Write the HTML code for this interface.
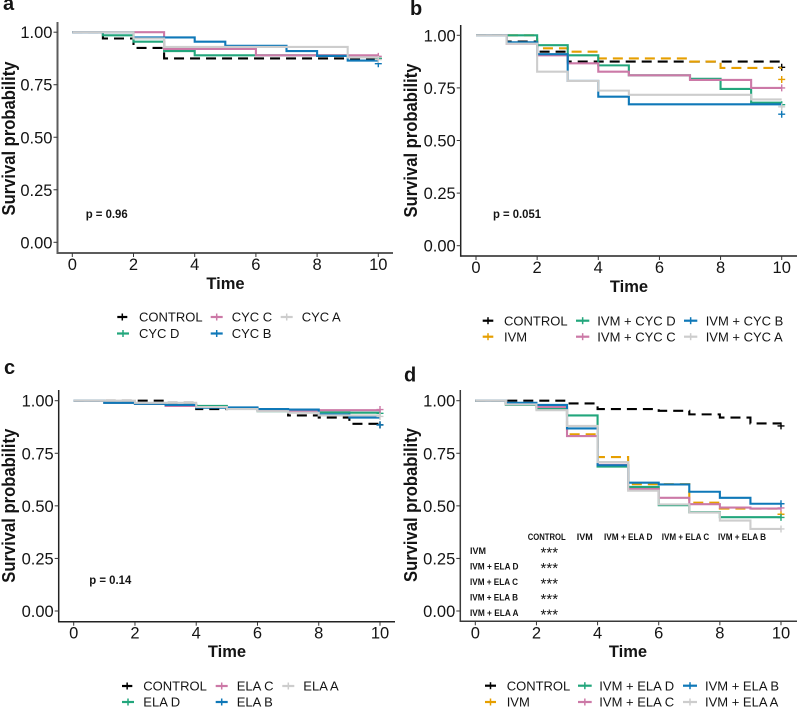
<!DOCTYPE html>
<html lang="en">
<head>
<meta charset="utf-8">
<title>Survival probability panels</title>
<style>
  html, body { margin: 0; padding: 0; background: #fff; }
  svg { display: block; font-family: "Liberation Sans", Arial, sans-serif; filter: blur(0.3px); }
  text { fill: #141414; }
</style>
</head>
<body>
<svg id="figure" width="797" height="707" viewBox="0 0 797 707" xmlns="http://www.w3.org/2000/svg"></svg>
<script>
// ---- shared axis data ----
const timeTicks = [0, 2, 4, 6, 8, 10];
const survivalTicks = [0, 0.25, 0.5, 0.75, 1];
const survivalTickLabels = ['0.00', '0.25', '0.50', '0.75', '1.00'];

// ---- each series: survival on [t, t+1) for t = 0..9, then the end-of-study mark value ----
const panelAGroups = ['CONTROL', 'CYC D', 'CYC C', 'CYC B', 'CYC A'];
const panelAControl = [1, 0.97, 0.925, 0.875, 0.875, 0.875, 0.875, 0.875, 0.875, 0.875, 0.875];
const panelACycD = [1, 0.985, 0.955, 0.91, 0.89, 0.89, 0.89, 0.89, 0.89, 0.88, 0.875];
const panelACycC = [1, 1, 1, 0.92, 0.92, 0.92, 0.89, 0.89, 0.89, 0.89, 0.885];
const panelACycB = [1, 1, 0.975, 0.975, 0.955, 0.935, 0.935, 0.91, 0.887, 0.865, 0.85];
const panelACycA = [1, 1, 0.97, 0.93, 0.93, 0.93, 0.93, 0.93, 0.93, 0.88, 0.87];

const panelBGroups = ['CONTROL', 'IVM', 'IVM + CYC D', 'IVM + CYC C', 'IVM + CYC B', 'IVM + CYC A'];
const panelBControl = [1, 0.97, 0.922, 0.875, 0.875, 0.875, 0.875, 0.875, 0.875, 0.875, 0.848];
const panelBIvm = [1, 1, 0.938, 0.922, 0.89, 0.89, 0.89, 0.875, 0.845, 0.845, 0.79];
const panelBCycD = [1, 1, 0.953, 0.905, 0.857, 0.81, 0.81, 0.793, 0.745, 0.68, 0.67];
const panelBCycC = [1, 0.96, 0.905, 0.867, 0.827, 0.81, 0.81, 0.788, 0.788, 0.75, 0.75];
const panelBCycB = [1, 0.967, 0.91, 0.783, 0.708, 0.672, 0.672, 0.672, 0.672, 0.672, 0.625];
const panelBCycA = [1, 0.96, 0.827, 0.783, 0.737, 0.717, 0.717, 0.717, 0.717, 0.695, 0.66];

const panelCGroups = ['CONTROL', 'ELA D', 'ELA C', 'ELA B', 'ELA A'];
const panelCControl = [1, 1, 1, 0.99, 0.96, 0.965, 0.955, 0.93, 0.92, 0.89, 0.885];
const panelCElaD = [1, 0.99, 0.985, 0.98, 0.975, 0.965, 0.95, 0.945, 0.945, 0.943, 0.94];
const panelCElaC = [1, 0.99, 0.985, 0.975, 0.97, 0.965, 0.955, 0.95, 0.955, 0.955, 0.958];
const panelCElaB = [1, 0.99, 0.985, 0.98, 0.967, 0.968, 0.96, 0.958, 0.935, 0.92, 0.885];
const panelCElaA = [1, 1, 0.99, 0.99, 0.97, 0.96, 0.95, 0.943, 0.93, 0.93, 0.925];

const panelDGroups = ['CONTROL', 'IVM', 'IVM + ELA D', 'IVM + ELA C', 'IVM + ELA B', 'IVM + ELA A'];
const panelDControl = [1, 1, 1, 0.987, 0.96, 0.96, 0.952, 0.935, 0.92, 0.892, 0.88];
const panelDIvm = [1, 0.985, 0.97, 0.84, 0.732, 0.603, 0.603, 0.515, 0.487, 0.487, 0.46];
const panelDElaD = [1, 0.98, 0.963, 0.93, 0.687, 0.59, 0.503, 0.47, 0.446, 0.446, 0.445];
const panelDElaC = [1, 0.988, 0.97, 0.832, 0.695, 0.58, 0.538, 0.508, 0.492, 0.487, 0.49];
const panelDElaB = [1, 0.99, 0.98, 0.868, 0.693, 0.61, 0.602, 0.567, 0.538, 0.51, 0.51];
const panelDElaA = [1, 0.982, 0.955, 0.88, 0.708, 0.572, 0.507, 0.468, 0.43, 0.39, 0.39];

const pairwiseColumns = ['CONTROL', 'IVM', 'IVM + ELA D', 'IVM + ELA C', 'IVM + ELA B'];
const pairwiseRows = ['IVM', 'IVM + ELA D', 'IVM + ELA C', 'IVM + ELA B', 'IVM + ELA A'];
const pairwiseStars = ['***', '***', '***', '***', '***'];

// ---- styling ----
const colorControl = '#000000';
const colorIvm = '#E69F00';
const colorD = '#22A67C';
const colorC = '#CC79A7';
const colorB = '#0F78B8';
const colorA = '#CDCDCD';

// ---- layout of each panel (pixels), separate from the data ----
const panels = [
  { id: 'a', x0: 72.3, x10: 378.3, y1: 32.2, y0: 242.3, left: 57.5, right: 393, top: 22, bottom: 253,
    axisColor: '#5c5c5c', axisWidth: 2,
    letterX: 3, letterY: 10, titleX: 15, titleMid: 138.5, timeX: 225.5, timeY: 289,
    pText: 'p = 0.96', pX: 85.7, pY: 218, pLen: 42,
    groups: panelAGroups,
    series: [panelAControl, panelACycD, panelACycC, panelACycB, panelACycA],
    colors: [colorControl, colorD, colorC, colorB, colorA],
    legendKeys: [[117.3, 127.3], [117, 129], [210.7, 222.7], [210.7, 222.7], [280.7, 292.7]],
    legendText: [139, 139, 231.7, 231.7, 301.7],
    legendRow: [0, 1, 0, 1, 0], legendY: [317, 333.5], order: [0, 1, 2, 3, 4] },
  { id: 'b', x0: 476, x10: 781.7, y1: 35.3, y0: 245.7, left: 460.7, right: 797, top: 25, bottom: 256,
    axisColor: '#222222', axisWidth: 1.5,
    letterX: 410, letterY: 15, titleX: 417, titleMid: 140.5, timeX: 629, timeY: 292,
    pText: 'p = 0.051', pX: 493, pY: 218, pLen: 48,
    groups: panelBGroups,
    series: [panelBControl, panelBIvm, panelBCycD, panelBCycC, panelBCycB, panelBCycA],
    colors: [colorControl, colorIvm, colorD, colorC, colorB, colorA],
    legendKeys: [[482.7, 493.3], [482.7, 493.3], [576, 589.3], [576, 589.3], [684, 697.3], [684, 697.3]],
    legendText: [504, 504, 597.3, 597.3, 705.7, 705.7],
    legendRow: [0, 1, 0, 1, 0, 1], legendY: [320.7, 336.7], order: [0, 1, 2, 3, 4, 5] },
  { id: 'c', x0: 73.7, x10: 380, y1: 400.7, y0: 611, left: 58.7, right: 395, top: 390, bottom: 621.7,
    axisColor: '#222222', axisWidth: 1.5,
    letterX: 4, letterY: 374, titleX: 15, titleMid: 505.7, timeX: 227, timeY: 657,
    pText: 'p = 0.14', pX: 89.3, pY: 584, pLen: 42,
    groups: panelCGroups,
    series: [panelCControl, panelCElaD, panelCElaC, panelCElaB, panelCElaA],
    colors: [colorControl, colorD, colorC, colorB, colorA],
    legendKeys: [[122, 132.3], [122, 134], [215.7, 227.7], [215.7, 227.7], [282.3, 294.3]],
    legendText: [143.3, 143.3, 236.7, 236.7, 303.3],
    legendRow: [0, 1, 0, 1, 0], legendY: [686, 702], order: [0, 1, 2, 3, 4] },
  { id: 'd', x0: 475.3, x10: 781, y1: 400.7, y0: 611, left: 460.3, right: 797, top: 390, bottom: 621.3,
    axisColor: '#3a3a3a', axisWidth: 1.5,
    letterX: 404, letterY: 381.7, titleX: 417, titleMid: 505, timeX: 628, timeY: 657,
    pText: '', pX: 0, pY: 0, pLen: 0,
    groups: panelDGroups,
    series: [panelDControl, panelDIvm, panelDElaD, panelDElaC, panelDElaB, panelDElaA],
    colors: [colorControl, colorIvm, colorD, colorC, colorB, colorA],
    legendKeys: [[485, 496], [485, 496], [578, 591.7], [578, 591.7], [683, 697], [683, 697]],
    legendText: [506.7, 506.7, 599.3, 599.3, 705, 705],
    legendRow: [0, 1, 0, 1, 0, 1], legendY: [685.7, 702], order: [0, 1, 2, 3, 4, 5] }
];

const pairColumnX = [527.7, 576.7, 604, 661.7, 718];
const pairColumnLen = [38, 16, 48.5, 47.6, 48];
const pairRowBase = [554, 569.5, 585, 600.5, 616];
const pairRowLen = [16, 48.5, 48, 48, 48.5];

const SVG_NS = 'http://www.w3.org/2000/svg';
const root = document.getElementById('figure');

function make(tag, attrs, parent, content) {
  const node = document.createElementNS(SVG_NS, tag);
  Object.keys(attrs).forEach(function (k) { node.setAttribute(k, attrs[k]); });
  if (content !== undefined) node.textContent = content;
  parent.appendChild(node);
  return node;
}
function slug(s) { return s.toLowerCase().replace(/[^a-z0-9]+/g, '-'); }

panels.forEach(function (p) {
  const xScale = function (t) { return p.x0 + (p.x10 - p.x0) * t / 10; };
  const yScale = function (v) { return p.y0 + (p.y1 - p.y0) * v; };

  const g = make('g', {}, root);
  
  

  const letter = make('text', { x: p.letterX, y: p.letterY, 'font-size': 20, 'font-weight': 'bold', fill: '#000' }, g, p.id);
  
  

  // y axis
  const yAxis = make('line', { x1: p.left, x2: p.left, y1: p.top, y2: p.bottom + p.axisWidth / 2, stroke: p.axisColor, 'stroke-width': p.axisWidth }, g);
  
  
  survivalTicks.forEach(function (v, i) {
    const tick = make('line', { x1: p.left - 4, x2: p.left, y1: yScale(v), y2: yScale(v), stroke: '#333', 'stroke-width': 1 }, g);
    
    
    const label = make('text', { x: p.left - 5, y: yScale(v) + 6, 'font-size': 16.5, 'text-anchor': 'end' }, g, survivalTickLabels[i]);
    
    
  });

  // x axis
  const xAxis = make('line', { x1: p.left, x2: p.right, y1: p.bottom, y2: p.bottom, stroke: p.axisColor, 'stroke-width': p.axisWidth }, g);
  
  
  timeTicks.forEach(function (t) {
    const tick = make('line', { x1: xScale(t), x2: xScale(t), y1: p.bottom, y2: p.bottom + 4, stroke: '#333', 'stroke-width': 1 }, g);
    
    
    const label = make('text', { x: xScale(t), y: p.bottom + 17, 'font-size': 16.5, 'text-anchor': 'middle' }, g, String(t));
    
    
  });

  // axis titles
  const yTitle = make('text', { transform: 'translate(' + p.titleX + ',' + p.titleMid + ') rotate(-90)', 'font-size': 18, 'font-weight': 'bold', 'text-anchor': 'middle', textLength: 154, lengthAdjust: 'spacingAndGlyphs', fill: '#000' }, g, 'Survival probability');
  
  
  const xTitle = make('text', { x: p.timeX, y: p.timeY, 'font-size': 16.5, 'font-weight': 'bold', 'text-anchor': 'middle', fill: '#000' }, g, 'Time');
  
  

  // survival curves
  p.order.forEach(function (s) {
    const values = p.series[s];
    let d = 'M' + xScale(0) + ' ' + yScale(values[0]);
    for (let i = 0; i < 10; i++) {
      d += 'H' + xScale(i + 1);
      if (i < 9) d += 'V' + yScale(values[i + 1]);
    }
    const isDashed = p.groups[s] === 'CONTROL' || p.groups[s] === 'IVM';
    const curve = make('path', { d: d, fill: 'none', stroke: p.colors[s], 'stroke-width': 2.1, 'stroke-dasharray': isDashed ? '10 6' : 'none' }, g);
    
    

    const endX = xScale(10);
    const endY = yScale(values[10]);
    const mark = make('path', { d: 'M' + (endX - 3.5) + ' ' + endY + 'H' + (endX + 3.5) + 'M' + endX + ' ' + (endY - 3.5) + 'V' + (endY + 3.5), fill: 'none', stroke: p.colors[s], 'stroke-width': 1.4 }, g);
    
    
  });

  // p value
  if (p.pText) {
    const pv = make('text', { x: p.pX, y: p.pY, 'font-size': 12, 'font-weight': 'bold', textLength: p.pLen, lengthAdjust: 'spacingAndGlyphs', fill: '#111' }, g, p.pText);
    
    
  }

  // legend
  p.groups.forEach(function (name, i) {
    const rowY = p.legendY[p.legendRow[i]];
    const entry = make('g', {}, g);
    
    
    const kx = p.legendKeys[i];
    const mid = (kx[0] + kx[1]) / 2;
    const keyLine = make('line', { x1: kx[0], x2: kx[1], y1: rowY, y2: rowY, stroke: p.colors[i], 'stroke-width': 2.2 }, entry);
    
    
    const keyMark = make('path', { d: 'M' + mid + ' ' + (rowY - 3.5) + 'V' + (rowY + 3.5), stroke: p.colors[i], 'stroke-width': 1.5, fill: 'none' }, entry);
    
    
    const label = make('text', { x: p.legendText[i], y: rowY + 4.7, 'font-size': 13, fill: '#2b2b2b' }, entry, name);
    
    
  });
});

// pairwise comparison table in panel d
const pairTable = make('g', { 'font-weight': 'bold', 'font-size': 9.5, fill: '#111' }, root);


pairwiseColumns.forEach(function (name, i) {
  const head = make('text', { x: pairColumnX[i], y: 540, textLength: pairColumnLen[i], lengthAdjust: 'spacingAndGlyphs' }, pairTable, name);
  
  
});
pairwiseRows.forEach(function (name, i) {
  const rowLabel = make('text', { x: 470, y: pairRowBase[i], textLength: pairRowLen[i], lengthAdjust: 'spacingAndGlyphs' }, pairTable, name);
  
  
  const star = make('text', { x: 549.3, y: pairRowBase[i] + 3.7, 'text-anchor': 'middle', 'font-size': 15, 'font-weight': 'normal' }, pairTable, pairwiseStars[i]);
  
  
});
</script>
</body>
</html>
